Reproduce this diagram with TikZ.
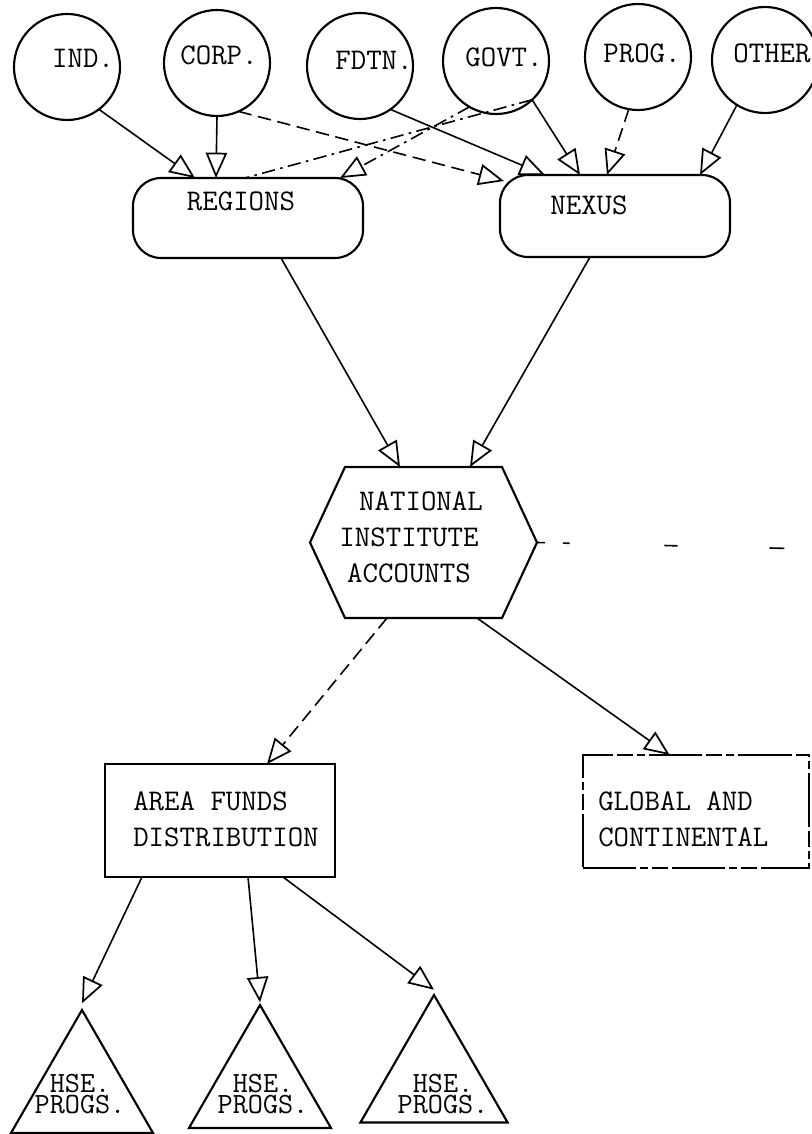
\documentclass[tikz,border=0pt]{standalone}
\usetikzlibrary{arrows.meta,shapes.geometric,calc}
\newcommand\lblfont{\fontsize{22.5}{27}\selectfont\ttfamily}
\newcommand\trifont{\fontsize{22}{15.5}\selectfont\ttfamily}
\begin{document}
\begin{tikzpicture}[x=0.75pt,y=-0.75pt,
  shp/.style={draw, line width=1.6pt, outer sep=0pt, inner sep=0pt},
  src/.style={shp, circle, minimum size=79.5pt},
  rbox/.style={shp, rectangle, rounded corners=21pt},
  sbox/.style={shp, rectangle},
  tri/.style={shp, regular polygon, regular polygon sides=3},
  lbl/.style={font=\lblfont, inner sep=0pt},
  tlbl/.style={font=\trifont, inner sep=0pt, align=center},
  conn/.style={line width=1.2pt, -{Triangle[open, length=19pt, width=16pt, line width=1.3pt]}},
  plain/.style={line width=1.2pt},
  dsh/.style={dash pattern=on 10pt off 5pt},
  dashdot/.style={dash pattern=on 10pt off 4pt on 2pt off 4pt},
]
\useasboundingbox (0,0) rectangle (812,1134);

% source circles
\node[src] (ind) at (67,67) {};
\node[src] (corp) at (217,63) {};
\node[src] (fdtn) at (360,66) {};
\node[src] (govt) at (496,61) {};
\node[src] (prog) at (638,57) {};
\node[src] (other) at (765,60) {};
\node[lbl] (ind-t) at (83,58) {IND.};
\node[lbl] (corp-t) at (219,55) {CORP.};
\node[lbl] (fdtn-t) at (374,60) {FDTN.};
\node[lbl] (govt-t) at (504,57) {GOVT.};
\node[lbl] (prog-t) at (642,53) {PROG.};
\node[lbl] (other-t) at (772,53) {OTHER};

% regions / nexus
\node[rbox, minimum width=172.5pt, minimum height=60pt] (regions) at (248,218) {};
\node[lbl] (regions-t) at (241,201) {REGIONS};
\node[rbox, minimum width=172.5pt, minimum height=61.5pt] (nexus) at (615,216) {};
\node[lbl] (nexus-t) at (589,205) {NEXUS};

% national institute accounts (hexagon)
\node[minimum width=170.25pt, minimum height=113.25pt, outer sep=0pt, inner sep=0pt] (nia) at (423.5,542.5) {};
\draw[line width=1.6pt] ([shift={(35,0)}]nia.north west) -- ([shift={(-35,0)}]nia.north east) -- (nia.east) -- ([shift={(-35,0)}]nia.south east) -- ([shift={(35,0)}]nia.south west) -- (nia.west) -- cycle;
\node[lbl, align=center] (nia-t) at (409,537) {\hspace*{18pt}NATIONAL\\INSTITUTE\\ACCOUNTS};

% area funds / global
\node[sbox, minimum width=172.5pt, minimum height=84.75pt] (area) at (220,820.5) {};
\node[lbl, align=left, anchor=west] (area-t) at (133,819.5) {AREA FUNDS\\DISTRIBUTION};
\node[sbox, minimum width=170pt, minimum height=84.75pt, dash pattern=on 40pt off 3pt on 6pt off 3pt on 12pt off 3pt] (global) at (696,811.5) {};
\node[lbl, align=left, anchor=west] (global-t) at (598,819.5) {GLOBAL AND\\CONTINENTAL};

% house programmes
\node[tri, minimum size=123pt] (t1) at (82,1092) {};
\node[tri, minimum size=123pt] (t2) at (260,1087) {};
\node[tri, minimum size=127.5pt] (t3) at (434,1080) {};
\node[tlbl] (t1-t) at (80,1094) {HSE.\\PROGS.};
\node[tlbl] (t2-t) at (263,1094) {HSE.\\PROGS.};
\node[tlbl] (t3-t) at (443,1094) {HSE.\\PROGS.};

% connectors into regions / nexus
\draw[conn] (ind.-53) -- ([shift={(62,0)}]regions.north west);
\draw[conn] (corp.-90) -- ([shift={(83,0)}]regions.north west);
\draw[conn, dsh] (corp.-66) -- ([shift={(4,6)}]nexus.north west);
\draw[conn] (fdtn.-55) -- ([shift={(45,0)}]nexus.north west);
\draw[conn, dashdot] (govt.-120) -- ([shift={(207,0)}]regions.north west);
\draw[plain, dashdot] (govt.-47) -- ([shift={(112,0)}]regions.north west);
\draw[conn] (govt.-47) -- ([shift={(80,0)}]nexus.north west);
\draw[conn, dsh] (prog.-100) -- ([shift={(107,0)}]nexus.north west);
\draw[conn] (other.-122) -- ([shift={(200,0)}]nexus.north west);

% into national institute accounts
\draw[conn] ([shift={(148,0)}]regions.south west) -- ([shift={(90,0)}]nia.north west);
\draw[conn] ([shift={(90,0)}]nexus.south west) -- ([shift={(160,0)}]nia.north west);

% out of national institute accounts
\draw[conn, dsh] ([shift={(77,0)}]nia.south west) -- ([shift={(162,0)}]area.north west);
\draw[conn] ([shift={(167,0)}]nia.south west) -- ([shift={(87,0)}]global.north west);
\coordinate (rightend) at (812,549);
\draw[plain, dash pattern=on 6pt off 13.5pt on 5pt off 71pt on 10pt off 69pt on 11pt off 40pt] (nia.east) -- (rightend);

% to house programmes
\draw[conn] ([shift={(37,0)}]area.south west) -- ([yshift=5pt]t1.corner 1);
\draw[conn] ([shift={(143,0)}]area.south west) -- ([yshift=2pt]t2.corner 1);
\draw[conn] ([shift={(178,0)}]area.south west) -- ([yshift=4pt]t3.corner 1);
\end{tikzpicture}
\end{document}
